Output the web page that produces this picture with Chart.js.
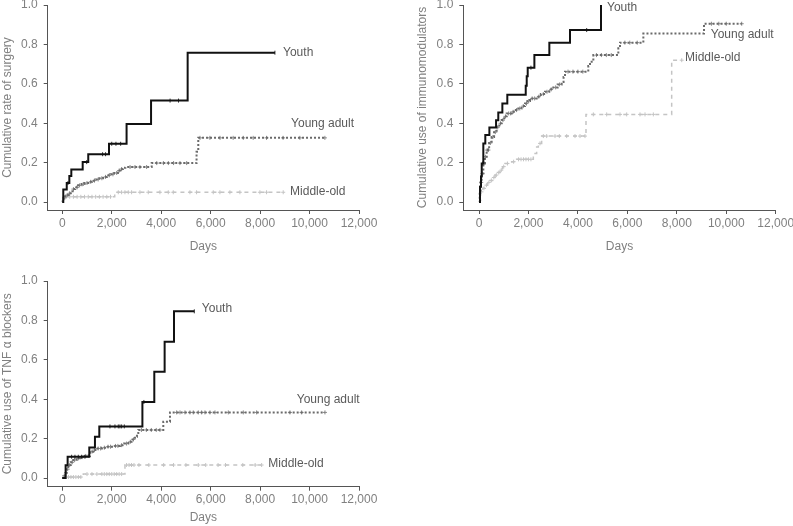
<!DOCTYPE html>
<html><head><meta charset="utf-8">
<script src="https://cdn.jsdelivr.net/npm/chart.js@4.4.1/dist/chart.umd.min.js"></script>
<style>
html,body{margin:0;padding:0;background:#fff;overflow:hidden;width:793px;height:526px;position:relative}
canvas{position:absolute}
</style></head><body>
<canvas id="c1" width="400" height="265" style="left:0;top:-5px"></canvas>
<canvas id="c2" width="385" height="265" style="left:415px;top:-5px"></canvas>
<canvas id="c3" width="400" height="255" style="left:0;top:271px"></canvas>
<script>
// ---------- tick labels ----------
const xTicks = [0, 2000, 4000, 6000, 8000, 10000, 12000];
const yTicks = [0, 0.2, 0.4, 0.6, 0.8, 1.0];
const seriesNames = ['Youth', 'Young adult', 'Middle-old'];
const xTitle = 'Days';
const yTitles = ['Cumulative rate of surgery', 'Cumulative use of immunomodulators', 'Cumulative use of TNF \u03b1 blockers'];

// ---------- Panel 1: surgery (step points [day, cumulative]) ----------
const surgeryYouth = [[0,0],[40,0.064],[180,0.097],[285,0.132],[365,0.166],[825,0.203],[1050,0.243],[1890,0.296],[2600,0.396],[3590,0.515],[5070,0.758],[8600,0.758]];
const surgeryYoungAdult = [[0,0],[15,0.012],[50,0.022],[120,0.03],[180,0.036],[260,0.045],[340,0.055],[420,0.066],[520,0.075],[640,0.085],[780,0.092],[900,0.097],[1050,0.103],[1200,0.109],[1350,0.115],[1500,0.121],[1650,0.128],[1800,0.136],[1950,0.141],[2100,0.148],[2250,0.16],[2350,0.168],[2450,0.174],[2550,0.178],[3615,0.198],[5430,0.255],[5500,0.326],[10620,0.326]];
const surgeryMiddleOld = [[0,0],[20,0.012],[60,0.027],[2120,0.05],[8950,0.05]];
const surgeryYouthCensor = [230,987,1630,1750,2000,2170,2360,4360,4700,8600];
const surgeryYoungAdultCensor = [100,200,300,450,600,700,850,1000,1150,1300,1450,1600,1750,1900,2050,2200,2300,2400,2740,2940,3140,3410,3820,4090,4290,4500,4760,5030,5570,5970,6380,6910,7320,7720,8260,8930,9610,10620];
const surgeryMiddleOldCensor = [150,300,450,600,750,900,1050,1200,1350,1500,1650,1800,1950,2264,2399,2534,2668,2803,3140,3477,3949,4286,4488,5162,5431,6105,6375,6779,7183,7992,8261,8935];

// ---------- Panel 2: immunomodulators ----------
const immunoYouth = [[0,0],[40,0.078],[80,0.13],[110,0.196],[175,0.298],[255,0.34],[420,0.379],[690,0.415],[780,0.455],[945,0.5],[1145,0.545],[1890,0.59],[1930,0.638],[1970,0.682],[2240,0.746],[2845,0.809],[3680,0.873],[4935,1.0]];
const immunoYoungAdult = [[0,0],[30,0.05],[60,0.1],[108,0.145],[175,0.196],[240,0.23],[310,0.264],[410,0.3],[512,0.33],[610,0.355],[714,0.38],[820,0.4],[917,0.416],[1020,0.435],[1119,0.45],[1321,0.458],[1450,0.467],[1591,0.475],[1720,0.487],[1860,0.5],[1960,0.513],[2062,0.526],[2332,0.535],[2500,0.548],[2669,0.56],[2840,0.572],[3006,0.582],[3180,0.597],[3343,0.61],[3420,0.635],[3478,0.662],[4420,0.69],[4489,0.712],[4624,0.746],[5635,0.78],[5703,0.809],[6647,0.855],[9100,0.905],[10625,0.905]];
const immunoMiddleOld = [[0,0],[40,0.01],[67,0.052],[150,0.07],[243,0.086],[345,0.1],[445,0.11],[547,0.125],[647,0.137],[750,0.15],[849,0.162],[950,0.18],[1051,0.196],[1321,0.205],[1523,0.217],[2197,0.247],[2332,0.28],[2399,0.298],[2534,0.335],[4327,0.445],[7793,0.72],[8200,0.72]];
const immunoYouthCensor = [150,2100,4355];
const immunoYoungAdultCensor = [90,140,200,260,330,380,460,560,660,760,870,970,1070,1200,1280,1380,1520,1650,1790,1920,2010,2150,2250,2420,2600,2750,2920,3100,3260,3600,3800,4000,4200,4750,4950,5150,5350,5900,6100,6400,9400,9700,10000,10625];
const immunoMiddleOldCensor = [100,200,300,400,500,600,700,800,900,1000,1150,1400,1600,1700,1800,1900,2000,2100,2467,2602,2737,3074,3249,3546,3883,4085,4287,4625,5164,5703,5973,6512,6714,7051,8200];

// ---------- Panel 3: TNF alpha blockers ----------
const tnfYouth = [[0,0],[135,0.065],[216,0.108],[1092,0.155],[1321,0.21],[1497,0.262],[3240,0.386],[3721,0.54],[4139,0.692],[4517,0.846],[5339,0.846]];
const tnfYoungAdult = [[0,0],[30,0.012],[108,0.027],[180,0.045],[243,0.066],[340,0.08],[445,0.091],[580,0.1],[715,0.106],[900,0.112],[1119,0.134],[1250,0.142],[1389,0.15],[1600,0.154],[1793,0.159],[2060,0.163],[2332,0.167],[2500,0.175],[2670,0.184],[2800,0.196],[2939,0.21],[3020,0.228],[3074,0.244],[4085,0.286],[4355,0.333],[10624,0.333]];
const tnfMiddleOld = [[0,0],[60,0.005],[850,0.02],[2535,0.066],[8063,0.066]];
const tnfYouthCensor = [377,512,647,782,917,1928,2130,2265,2332,2400,2508,3300,5339];
const tnfYoungAdultCensor = [80,150,220,300,400,500,650,800,950,1050,1200,1300,1450,1550,1700,1850,1950,2150,2250,2400,2600,2750,2880,3200,3400,3600,3800,3950,4625,4760,4962,5164,5298,5500,5635,5770,5973,6175,6714,7321,7860,9208,9680,10624];
const tnfMiddleOldCensor = [150,250,350,450,550,650,750,1000,1200,1400,1600,1700,1800,1900,2000,2100,2200,2300,2400,2600,2700,2800,2900,3100,3500,4100,4500,5000,5500,5800,6300,6600,7300,7800,8063];

// ---------- series label anchors [day, value] ----------
const surgeryLabelAt = [[8928,0.756],[9252,0.396],[9211,0.051]];
const immunoLabelAt = [[5178,0.985],[9373,0.85],[8333,0.734]];
const tnfLabelAt = [[5643,0.858],[9482,0.396],[8333,0.075]];

// ---------- rendering ----------
const FONT = {family: '"Liberation Sans", Arial, sans-serif', size: 12};
const AXIS = '#555';
const TXT = '#808080';
const styles = [
  {color: '#111', width: 2, dash: [], censorColor: '#333', censorStyle: 'line', censorRot: 90},
  {color: '#6a6a6a', width: 2, dash: [2, 2], censorColor: '#888', censorStyle: 'cross', censorRot: 0},
  {color: '#c4c4c4', width: 1.5, dash: [4, 4], censorColor: '#c4c4c4', censorStyle: 'cross', censorRot: 0}
];

function valueAt(steps, t) {
  let v = 0;
  for (const [x, y] of steps) if (x <= t) v = y;
  return v;
}

const labelPlugin = {
  id: 'seriesLabels',
  afterDatasetsDraw(chart, args, opts) {
    const {ctx, scales} = chart;
    ctx.save();
    ctx.font = '12px ' + FONT.family;
    ctx.fillStyle = '#5a5a5a';
    ctx.textAlign = 'left';
    ctx.textBaseline = 'middle';
    opts.anchors.forEach((a, i) => {
      ctx.fillText(seriesNames[i], scales.x.getPixelForValue(a[0]), scales.y.getPixelForValue(a[1]));
    });
    ctx.restore();
  }
};

function makePanel(id, cfg) {
  const datasets = [];
  cfg.series.forEach((s, i) => {
    const st = styles[i];
    datasets.push({
      label: seriesNames[i],
      data: s.map(p => ({x: p[0], y: p[1]})),
      showLine: true, stepped: 'before',
      borderColor: st.color, borderWidth: st.width, borderDash: st.dash,
      pointRadius: 0, fill: false, order: i * 2
    });
    datasets.push({
      label: seriesNames[i] + ' censored',
      data: cfg.censor[i].map(t => ({x: t, y: valueAt(s, t)})),
      showLine: false, pointStyle: st.censorStyle, rotation: st.censorRot, pointRadius: 2,
      pointBorderColor: st.censorColor, pointBorderWidth: 1, order: i * 2 + 1
    });
  });
  const gridOpts = {display: true, drawOnChartArea: false, drawTicks: true, tickLength: 4, tickColor: AXIS, tickWidth: 1};
  new Chart(document.getElementById(id), {
    type: 'scatter',
    data: {datasets},
    options: {
      responsive: false, animation: false, devicePixelRatio: 1,
      layout: {padding: {top: 10, right: cfg.padRight, left: 0, bottom: 0}},
      plugins: {legend: {display: false}, tooltip: {enabled: false}, seriesLabels: {anchors: cfg.labels}},
      scales: {
        x: {
          type: 'linear', min: cfg.xMin, max: 12000,
          afterBuildTicks: s => { s.ticks = xTicks.map(v => ({value: v})); },
          ticks: {callback: v => v.toLocaleString('en-US'), color: TXT, font: FONT, padding: 2, maxRotation: 0, autoSkip: false},
          grid: gridOpts,
          border: {display: true, color: AXIS, width: 1},
          title: {display: true, text: xTitle, color: TXT, font: FONT, padding: {top: 0, bottom: cfg.daysPad}},
          afterFit: s => { s.height = cfg.xHeight; s.paddingLeft = 0; s.paddingRight = 0; }
        },
        y: {
          type: 'linear', min: cfg.yMin, max: 1.0,
          afterBuildTicks: s => { s.ticks = yTicks.map(v => ({value: v})); },
          ticks: {callback: v => v.toFixed(1), color: TXT, font: FONT, padding: 6},
          grid: gridOpts,
          border: {display: true, color: AXIS, width: 1},
          title: {display: true, text: cfg.yTitle, color: TXT, font: FONT, padding: {top: 0, bottom: 0}},
          afterFit: s => { s.width = cfg.yWidth; s.paddingTop = 0; s.paddingBottom = 0; }
        }
      }
    },
    plugins: [labelPlugin]
  });
}

makePanel('c1', {
  series: [surgeryYouth, surgeryYoungAdult, surgeryMiddleOld],
  censor: [surgeryYouthCensor, surgeryYoungAdultCensor, surgeryMiddleOldCensor],
  labels: surgeryLabelAt, yTitle: yTitles[0],
  xMin: -590, yMin: -0.04, yWidth: 47.7, xHeight: 50, padRight: 41, daysPad: 6
});
makePanel('c2', {
  series: [immunoYouth, immunoYoungAdult, immunoMiddleOld],
  censor: [immunoYouthCensor, immunoYoungAdultCensor, immunoMiddleOldCensor],
  labels: immunoLabelAt, yTitle: yTitles[1],
  xMin: -635, yMin: -0.04, yWidth: 48.3, xHeight: 50, padRight: 24.3, daysPad: 6
});
makePanel('c3', {
  series: [tnfYouth, tnfYoungAdult, tnfMiddleOld],
  censor: [tnfYouthCensor, tnfYoungAdultCensor, tnfMiddleOldCensor],
  labels: tnfLabelAt, yTitle: yTitles[2],
  xMin: -590, yMin: -0.044, yWidth: 47.7, xHeight: 39.3, padRight: 41, daysPad: 0.8
});
</script>
</body></html>
